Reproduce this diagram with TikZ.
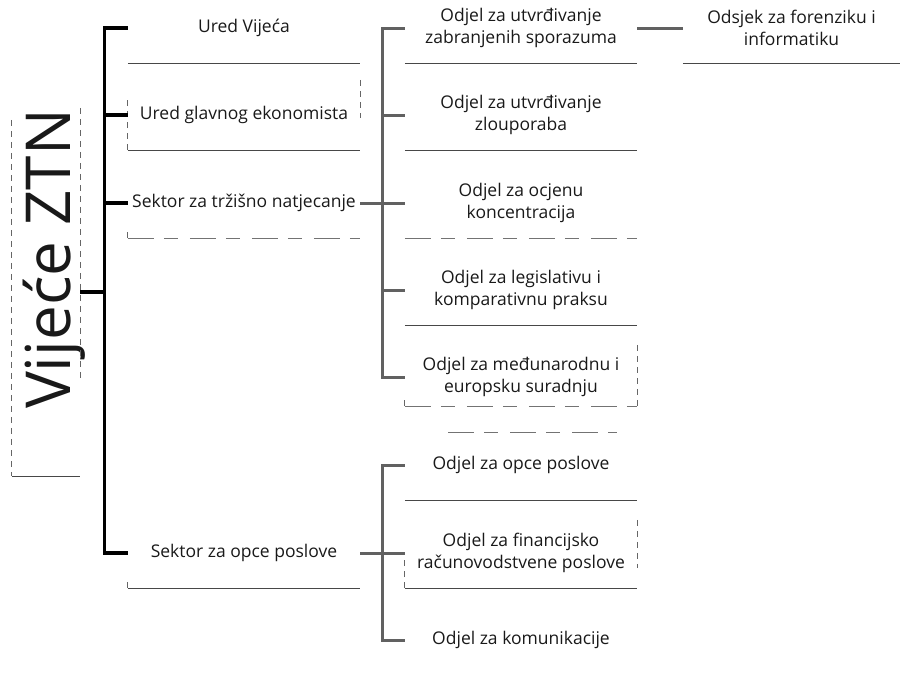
\documentclass[tikz,border=0pt]{standalone}
\usepackage{fontspec}
\setmainfont{Open Sans}
\begin{document}
\begin{tikzpicture}[x=1pt,y=-1pt,
  unit/.style={minimum width=232pt,minimum height=70pt,inner sep=0pt,align=center,
    text=black!90,font=\fontsize{17.5}{22}\selectfont},
  trunkA/.style={draw=black,line width=3.2pt},
  trunkB/.style={draw=black!62,line width=3pt},
  boxline/.style={draw=black!72,line width=1pt},
  faintline/.style={draw=black!55,line width=0.8pt,dash pattern=on 26pt off 10pt on 14pt off 12pt},
  faintside/.style={draw=black!60,line width=0.8pt,dash pattern=on 6pt off 5pt}]
\useasboundingbox (0,0) rectangle (902,673);

% council
\node[minimum width=68pt,minimum height=368pt,inner sep=0pt] (v) at (46,292) {};
\node[rotate=90,anchor=base,inner sep=0pt,text=black!90,font=\fontsize{62}{62}\selectfont] (vt) at (70,259) {Vijeće ZTN};

% level 1
\node[unit] (uv)  at (244,28)  {Ured Vijeća};
\node[unit] (uge) at (244,115) {Ured glavnog ekonomista};
\node[unit] (stn) at (244,203) {Sektor za tržišno natjecanje};
\node[unit] (sop) at (244,553) {Sektor za opce poslove};

% level 2
\node[unit] (o1) at (521,28)  {Odjel za utvrđivanje\\zabranjenih sporazuma};
\node[unit] (o2) at (521,115) {Odjel za utvrđivanje\\zlouporaba};
\node[unit] (o3) at (521,203) {Odjel za ocjenu\\koncentracija};
\node[unit] (o4) at (521,290) {Odjel za legislativu i\\komparativnu praksu};
\node[unit] (o5) at (521,377) {Odjel za međunarodnu i\\europsku suradnju};
\node[unit] (p1) at (521,465) {Odjel za opce poslove};
\node[unit] (p2) at (521,553) {Odjel za financijsko\\računovodstvene poslove};
\node[unit] (p3) at (521,640) {Odjel za komunikacije};

% level 3
\node[unit,minimum width=217pt] (f1) at (791.5,28) {Odsjek za forenziku i\\informatiku};

% box outlines (as visible)
\draw[faintside] ([yshift=-12pt]v.north west) -- (v.south west);
\draw[faintside] (v.north east) -- ++(0,270);
\draw[boxline] (v.south west) -- (v.south east);

\draw[boxline] (uv.south west) -- (uv.south east);
\draw[boxline] (uge.south west) -- (uge.south east);
\draw[faintside] (uge.south west) -- ++(0,-52);
\draw[faintside] (uge.north east) -- ++(0,38);
\draw[faintline] (stn.south west) -- (stn.south east);
\draw[faintside] (stn.south west) -- ++(0,-6);
\draw[boxline] (sop.south west) -- (sop.south east);
\draw[faintside] (sop.south west) -- ++(0,-8);

\draw[boxline] (o1.south west) -- (o1.south east);
\draw[boxline] (o2.south west) -- (o2.south east);
\draw[faintline] (o3.south west) -- (o3.south east);
\draw[boxline] (o4.south west) -- (o4.south east);
\draw[faintline] ([yshift=6pt]o5.south west) -- ([yshift=6pt]o5.south east);
\draw[faintside] ([yshift=6pt]o5.south west) -- ++(0,-6);
\draw[faintside] ([yshift=-3pt]o5.north east) -- ([yshift=6pt]o5.south east);
\draw[faintline] (448,432) -- (617,432);

\draw[boxline] (p1.south west) -- (p1.south east);
\draw[boxline] (p2.south west) -- (p2.south east);
\draw[faintside] (p2.south west) -- ++(0,-30);
\draw[faintside] ([yshift=-2pt]p2.north east) -- ++(0,48);
\draw[boxline] (f1.south west) -- (f1.south east);

% connectors level 1
\draw[trunkA] (uv.west) -- ++(-23,0) |- (sop.west);
\draw[trunkA] (uge.west) -- ++(-23,0);
\draw[trunkA] (stn.west) -- ++(-23,0);
\draw[trunkA] (v.east) -- ++(25,0);

% connectors level 2
\draw[trunkB] (o1.west) -- ++(-22,0) |- (o5.west);
\draw[trunkB] (o2.west) -- ++(-22,0);
\draw[trunkB] (o4.west) -- ++(-22,0);
\draw[trunkB] (stn.east) -- (o3.west);

\draw[trunkB] (p1.west) -- ++(-22,0) |- (p3.west);
\draw[trunkB] (sop.east) -- (p2.west);

% level 3
\draw[trunkB] (o1.east) -- (f1.west);
\end{tikzpicture}
\end{document}
